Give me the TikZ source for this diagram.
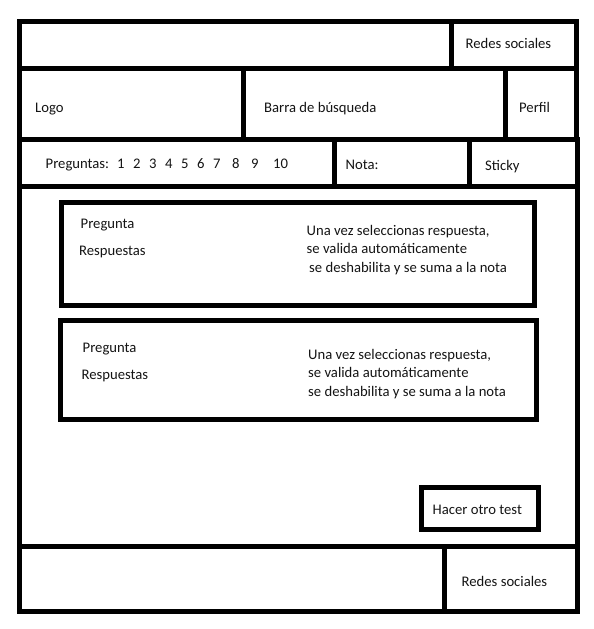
\documentclass[tikz,border=0pt]{standalone}
\usepackage{fontspec}
\setmainfont{Carlito}
\usepackage{tikz}
\usetikzlibrary{positioning}
\definecolor{inkblack}{RGB}{0,0,0}
\definecolor{textdark}{RGB}{20,20,20}

\tikzset{
  frame/.style={draw=inkblack,line width=5pt,line join=miter},
  wtext/.style={anchor=base west,inner sep=0pt,text=textdark,font=\fontsize{14.67pt}{18pt}\selectfont},
}

\begin{document}
\begin{tikzpicture}[x=1pt,y=-1pt]
        \useasboundingbox (0,0) rectangle (594,629);

        % Top bar
        \draw[frame] (19.5,21.5) rectangle (576.5,68);
        \draw[frame] (451.5,21.5) -- (451.5,68);
        \node[wtext] (redestop) at (465.5,48) {Redes sociales};

        % Header: logo, search, profile
        \draw[frame] (19.5,68) rectangle (576.5,139.5);
        \draw[frame] (243,68) -- (243,139.5);
        \draw[frame] (505.5,68) -- (505.5,139.5);
        \node[wtext] (logo) at (35,112) {Logo};
        \node[wtext] (barra) at (264,112) {Barra de búsqueda};
        \node[wtext] (perfil) at (519,112) {Perfil};

        % Question bar
        \draw[frame] (19.5,139.5) rectangle (577,186);
        \draw[frame] (334.5,139.5) -- (334.5,186);
        \draw[frame] (469.5,139.5) -- (469.5,186);
        \node[wtext] (preguntas) at (45.5,168) {Preguntas:};
        \foreach \n/\x in {1/117,2/133,3/149,4/165,5/181,6/197,7/213,8/232,9/251,10/273}
            \node[wtext] (num\n) at (\x,168) {\n};
        \node[wtext] (nota) at (345.5,169) {Nota:};
        \node[wtext] (sticky) at (485,170) {Sticky};

        % Main area
        \draw[frame] (19.5,186) rectangle (577.5,546.5);

        % First question
        \draw[frame] (61.5,202.5) rectangle (534,305);
        \node[wtext] (preg1) at (80.5,228.5) {Pregunta};
        \node[wtext] (resp1) at (79,255) {Respuestas};
        \node[wtext] (info1a) at (306.5,235.5) {Una vez seleccionas respuesta,};
        \node[wtext] (info1b) at (306.5,253.5) {se valida automáticamente};
        \node[wtext] (info1c) at (309,272.5) {se deshabilita y se suma a la nota};

        % Second question
        \draw[frame] (60.5,320.5) rectangle (536.5,419);
        \node[wtext] (preg2) at (82.5,352) {Pregunta};
        \node[wtext] (resp2) at (81.5,379) {Respuestas};
        \node[wtext] (info2a) at (308,359) {Una vez seleccionas respuesta,};
        \node[wtext] (info2b) at (308,377) {se valida automáticamente};
        \node[wtext] (info2c) at (308,396) {se deshabilita y se suma a la nota};

        % New test button
        \draw[frame] (421.5,487.5) rectangle (538.5,529);
        \node[wtext] (hacer) at (432.5,514) {Hacer otro test};

        % Footer
        \draw[frame] (19.5,546.5) rectangle (577,611);
        \draw[frame] (444.5,546.5) -- (444.5,611);
        \node[wtext] (redesbottom) at (461.5,586) {Redes sociales};
    \end{tikzpicture}
\end{document}
